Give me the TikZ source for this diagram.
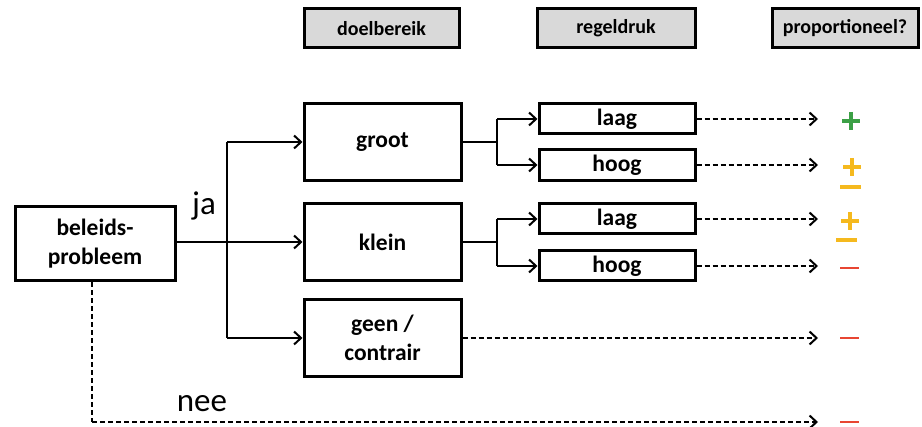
\documentclass[tikz,border=0pt]{standalone}
\usepackage{fontspec}
\setmainfont{Carlito}
\usetikzlibrary{arrows.meta}
\definecolor{hdrgray}{RGB}{217,217,217}
\definecolor{pgreen}{RGB}{60,160,70}
\definecolor{porange}{RGB}{245,185,30}
\definecolor{pred}{RGB}{232,70,50}
\begin{document}
\begin{tikzpicture}[x=1pt,y=-1pt,
  box/.style={draw,line width=3pt,inner sep=0pt,font=\fontsize{23.5}{29}\selectfont\bfseries,align=center},
  hdr/.style={box,fill=hdrgray,font=\fontsize{20}{24}\selectfont\bfseries},
  conn/.style={line width=2pt},
  arr/.style={conn,-{Straight Barb[length=7pt,width=13pt,line width=2pt]}},
  darr/.style={arr,dashed,dash pattern=on 5pt off 3pt},
  lbl/.style={font=\fontsize{33}{38}\selectfont},
  sym/.style={line width=3.2pt}]
\useasboundingbox (0,0) rectangle (922,427);
% headers
\node[hdr,minimum width=155pt,minimum height=39pt] (h1) at (381.5,28.5) {doelbereik};
\node[hdr,minimum width=158pt,minimum height=39pt] (h2) at (616,28.5) {regeldruk};
\node[hdr,minimum width=146pt,minimum height=39pt] (h3) at (845,28.5) {proportioneel?};
% main boxes
\node[box,minimum width=160pt,minimum height=74pt] (bp) at (95,244) {beleids-\\probleem};
\node[box,minimum width=157pt,minimum height=77pt] (groot) at (382.5,142) {groot};
\node[box,minimum width=157pt,minimum height=77pt] (klein) at (382.5,242) {klein};
\node[box,minimum width=157pt,minimum height=77pt] (geen) at (382.5,338) {geen /\\contrair};
% small boxes
\node[box,minimum width=156pt,minimum height=30pt] (l1) at (617,119) {laag};
\node[box,minimum width=156pt,minimum height=31pt] (k1) at (617,165) {hoog};
\node[box,minimum width=156pt,minimum height=30pt] (l2) at (617,219) {laag};
\node[box,minimum width=156pt,minimum height=30pt] (k2) at (617,266) {hoog};
% coordinates
\coordinate (s1) at (227,242);
\coordinate (t1) at (818,119);
\coordinate (t2) at (818,165);
\coordinate (t3) at (818,219);
\coordinate (t4) at (818,266);
\coordinate (t5) at (818,338);
\coordinate (t6) at (818,422);
\coordinate (nb) at (92,422);
% ja branch
\draw[conn] (bp.east |- s1) -- (s1);
\draw[conn] (s1 |- groot.west) -- (s1 |- geen.west);
\draw[arr] (s1 |- groot.west) -- (groot.west);
\draw[arr] (s1) -- (klein.west |- s1);
\draw[arr] (s1 |- geen.west) -- (geen.west);
\node[lbl] (ja) at (204,206) {ja};
% groot branch
\draw[conn] (groot.east) -- (497,142);
\draw[conn] (497,119) -- (497,165);
\draw[arr] (497,119) -- (l1.west);
\draw[arr] (497,165) -- (k1.west);
% klein branch
\draw[conn] (klein.east) -- (497,242);
\draw[conn] (497,219) -- (497,266);
\draw[arr] (497,219) -- (l2.west);
\draw[arr] (497,266) -- (k2.west);
% dashed to results
\draw[darr] (l1.east) -- (t1);
\draw[darr] (k1.east) -- (t2);
\draw[darr] (l2.east) -- (t3);
\draw[darr] (k2.east) -- (t4);
\draw[darr] (geen.east) -- (t5);
\draw[conn,dashed,dash pattern=on 5pt off 3pt] (bp.south -| nb) -- (nb);
\draw[darr] (nb) -- (t6);
\node[lbl] (nee) at (202,404) {nee};
% symbols
\draw[sym,pgreen] (842,121) -- (860,121) (851,112) -- (851,130);
\draw[sym,porange] (843,167) -- (861,167) (852,158) -- (852,176) (840,187) -- (861,187);
\draw[sym,porange] (841,221) -- (859,221) (850,212) -- (850,230) (836,240) -- (857,240);
\draw[line width=2.4pt,pred] (840,268) -- (859,268);
\draw[line width=2.4pt,pred] (840,338) -- (859,338);
\draw[line width=2.4pt,pred] (840,422) -- (859,422);
\end{tikzpicture}
\end{document}
